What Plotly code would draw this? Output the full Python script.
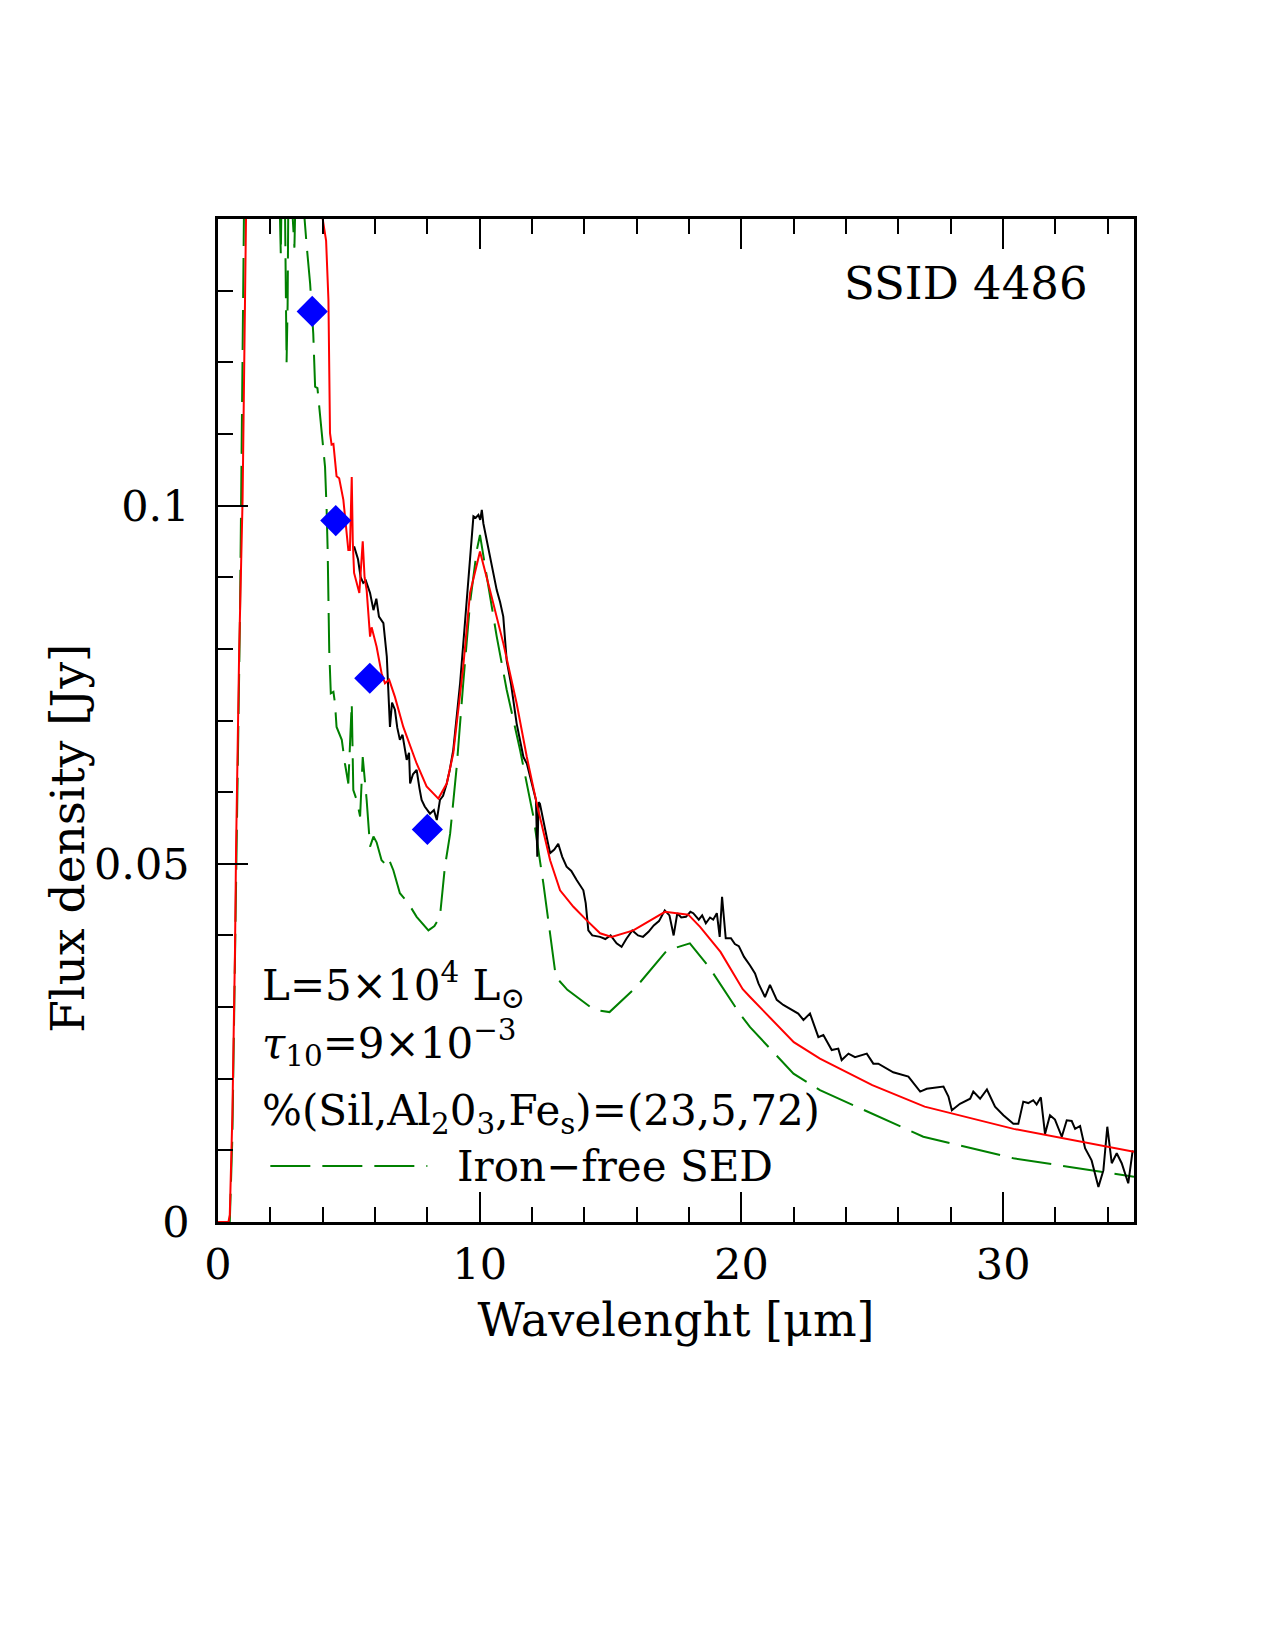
import plotly.graph_objects as go

# ---- observed spectrum (black) ----
obs_x = [5.20,5.35,5.45,5.55,5.65,5.81,5.94,6.05,6.15,6.32,6.45,6.52,6.57,6.65,6.76,6.85,6.95,7.05,7.21,7.30,7.34,7.45,7.59,7.70,7.78,7.90,8.10,8.25,8.36,8.48,8.60,8.74,8.85,8.99,9.10,9.25,9.40,9.57,9.68,9.76,9.85,9.95,10.02,10.08,10.14,10.25,10.39,10.50,10.65,10.78,10.90,11.03,11.20,11.41,11.55,11.67,11.80,11.92,12.05,12.15,12.20,12.25,12.30,12.49,12.60,12.69,12.85,13.00,13.15,13.32,13.50,13.71,13.85,13.96,14.05,14.15,14.30,14.60,14.80,15.00,15.23,15.42,15.60,15.83,16.05,16.24,16.45,16.65,16.85,17.07,17.25,17.41,17.55,17.70,17.88,18.05,18.16,18.37,18.50,18.64,18.80,18.92,19.06,19.17,19.26,19.40,19.60,19.75,19.90,20.10,
         20.33,20.52,20.65,20.90,21.09,21.35,21.60,22.17,22.37,22.62,22.94,23.13,23.45,23.70,23.83,24.09,24.34,24.79,25.04,25.23,25.80,26.19,26.38,26.83,27.08,27.72,27.91,28.04,28.35,28.74,28.86,29.12,29.38,29.69,30.01,30.39,30.58,30.77,30.96,31.15,31.28,31.44,31.60,31.79,31.98,32.24,32.43,32.62,32.75,32.94,33.13,33.38,33.64,33.83,33.98,34.15,34.34,34.53,34.78,34.95]
obs_y = [0.0943,0.0925,0.0900,0.0892,0.0895,0.0878,0.0854,0.0870,0.0845,0.0836,0.0789,0.0740,0.0691,0.0725,0.0715,0.0690,0.0673,0.0680,0.0645,0.0655,0.0612,0.0625,0.0631,0.0605,0.0589,0.0580,0.0570,0.0575,0.0561,0.0589,0.0595,0.0612,0.0630,0.0659,0.0700,0.0752,0.0820,0.0901,0.0950,0.0985,0.0983,0.0987,0.0980,0.0994,0.0975,0.0955,0.0929,0.0912,0.0882,0.0865,0.0845,0.0784,0.0750,0.0696,0.0670,0.0649,0.0640,0.0622,0.0600,0.0589,0.0510,0.0586,0.0584,0.0547,0.0530,0.0515,0.0520,0.0528,0.0510,0.0496,0.0490,0.0477,0.0470,0.0463,0.0445,0.0407,0.0400,0.0398,0.0395,0.0400,0.0389,0.0384,0.0395,0.0407,0.0400,0.0398,0.0405,0.0414,0.0420,0.0435,0.0428,0.0400,0.0431,0.0425,0.0426,0.0433,0.0431,0.0422,0.0428,0.0417,0.0425,0.0422,0.0431,0.0398,0.0454,0.0396,0.0396,0.0388,0.0385,0.0370,
         0.0358,0.0347,0.0333,0.0314,0.0331,0.0310,0.0303,0.0291,0.0282,0.0291,0.0258,0.0261,0.0240,0.0242,0.0226,0.0235,0.0230,0.0235,0.0221,0.0221,0.0209,0.0205,0.0203,0.0182,0.0186,0.0189,0.0175,0.0156,0.0165,0.0172,0.0182,0.0172,0.0185,0.0161,0.0149,0.0137,0.0137,0.0168,0.0166,0.0170,0.0164,0.0174,0.0123,0.0149,0.0143,0.0119,0.0142,0.0141,0.0130,0.0134,0.0103,0.0086,0.0049,0.0072,0.0133,0.0082,0.0096,0.0082,0.0054,0.0100]

# ---- best-fit model (red) ----
mod_x = [0.0,0.40,0.45,0.55,0.65,0.69,0.81,0.94,1.07,1.3,2.5,3.8,4.00,4.13,4.22,4.28,4.34,4.41,4.53,4.63,4.79,4.98,5.04,5.11,5.15,5.20,5.40,5.53,5.60,5.68,5.81,5.87,6.06,6.25,6.38,6.54,6.76,7.08,7.59,7.97,8.42,8.74,8.99,9.37,9.63,10.01,10.39,10.90,11.41,11.80,12.18,12.69,13.07,13.58,14.09,14.60,15.04,15.87,17.08,17.97,18.42,19.20,20.05,20.33,22.0,23.0,25.0,27.0,30.4,35.0]
mod_y = [0.0,0.0,0.001,0.015,0.038,0.052,0.080,0.101,0.14,0.17,0.25,0.17,0.14,0.137,0.1287,0.1101,0.1085,0.1086,0.1041,0.1038,0.1008,0.0938,0.0938,0.1040,0.0950,0.0906,0.0878,0.0950,0.0900,0.0882,0.0817,0.0830,0.0803,0.0766,0.0752,0.0757,0.0733,0.0691,0.0640,0.0608,0.0591,0.0612,0.0654,0.0775,0.0878,0.0936,0.0882,0.0808,0.0724,0.0649,0.0584,0.0505,0.0463,0.0440,0.0421,0.0403,0.0398,0.0407,0.0433,0.0429,0.0412,0.0377,0.0325,0.0314,0.0251,0.0228,0.0191,0.0161,0.0130,0.0098]

# ---- iron-free model (green dashed) ----
fe_x = [0.0,0.45,0.55,0.65,0.74,0.84,0.99,1.2,2.0,2.35,2.40,2.45,2.55,2.62,2.66,2.70,2.85,2.92,3.0,3.2,3.39,3.52,3.64,3.71,3.8,3.96,4.09,4.15,4.19,4.25,4.31,4.41,4.47,4.53,4.73,4.85,4.98,5.11,5.17,5.30,5.43,5.53,5.68,5.81,5.94,6.06,6.25,6.38,6.51,6.70,6.95,7.27,7.59,8.04,8.27,8.48,8.67,8.87,9.12,9.37,9.63,9.89,10.01,10.27,10.65,11.03,11.54,12.05,12.43,12.91,13.35,14.38,14.96,15.98,17.15,18.03,18.76,19.93,20.33,21.99,23.0,26.95,30.39,35.0]
fe_y = [0.0,0.0,0.012,0.038,0.0612,0.0845,0.14,0.19,0.20,0.145,0.135,0.150,0.145,0.120,0.128,0.150,0.140,0.136,0.150,0.145,0.1362,0.131,0.124,0.1166,0.1164,0.110,0.1054,0.0995,0.0938,0.0798,0.0738,0.0740,0.0724,0.0691,0.0673,0.0640,0.0612,0.0724,0.0603,0.0589,0.0566,0.0649,0.0589,0.0524,0.0538,0.0530,0.0505,0.0500,0.0508,0.0491,0.0459,0.0445,0.0426,0.0407,0.0413,0.0426,0.0496,0.0542,0.0635,0.0752,0.0864,0.0938,0.0959,0.0901,0.0817,0.0743,0.0659,0.0566,0.0473,0.0342,0.0324,0.0296,0.0293,0.0328,0.0379,0.0389,0.0356,0.0291,0.0272,0.0207,0.0184,0.0119,0.0089,0.0063]

# ---- photometry (blue diamonds) ----
phot_x = [3.6, 4.5, 5.8, 8.0]
phot_y = [0.1271, 0.0979, 0.0759, 0.0548]

x_tickvals = [0, 10, 20, 30]
x_ticktext = ["0", "10", "20", "30"]
y_tickvals = [0, 0.05, 0.1]
y_ticktext = ["0", "0.05", "0.1"]

FONT = "DejaVu Serif"
DASH = "40px,12px"

fig = go.Figure()
fig.add_trace(go.Scatter(x=fe_x, y=fe_y, mode="lines",
                         line=dict(color="#008000", width=2, dash=DASH), showlegend=False))
fig.add_trace(go.Scatter(x=obs_x, y=obs_y, mode="lines",
                         line=dict(color="black", width=2), showlegend=False))
fig.add_trace(go.Scatter(x=mod_x, y=mod_y, mode="lines",
                         line=dict(color="#ff0000", width=2), showlegend=False))
fig.add_trace(go.Scatter(x=phot_x, y=phot_y, mode="markers",
                         marker=dict(symbol="diamond", size=24, color="#0000ff"), showlegend=False))

# legend sample line for iron-free SED
fig.add_trace(go.Scatter(x=[2.0, 8.0], y=[0.0078, 0.0078], mode="lines",
                         line=dict(color="#008000", width=2, dash=DASH), showlegend=False))

ann_font = dict(family=FONT, size=42, color="black")
fig.add_annotation(x=33.3, y=0.131, xref="x", yref="y", text="SSID 4486",
                   showarrow=False, xanchor="right", yanchor="middle",
                   font=dict(family=FONT, size=45, color="black"))
fig.add_annotation(x=1.6, y=0.0331, xref="x", yref="y",
                   text="L=5×10<sup>4</sup> L<sub>⊙</sub>",
                   showarrow=False, xanchor="left", yanchor="middle", font=ann_font)
fig.add_annotation(x=1.6, y=0.0250, xref="x", yref="y",
                   text="<i>τ</i><sub>10</sub>=9×10<sup>−3</sup>",
                   showarrow=False, xanchor="left", yanchor="middle", font=ann_font)
fig.add_annotation(x=1.6, y=0.0151, xref="x", yref="y",
                   text="%(Sil,Al<sub>2</sub>0<sub>3</sub>,Fe<sub>s</sub>)=(23,5,72)",
                   showarrow=False, xanchor="left", yanchor="middle", font=ann_font)
fig.add_annotation(x=9.06, y=0.0078, xref="x", yref="y", text="Iron−free SED",
                   showarrow=False, xanchor="left", yanchor="middle", font=ann_font)

# y-axis title (placed like the reference, below the axis centre)
fig.add_annotation(x=-0.1638, y=0.383, xref="paper", yref="paper", text="Flux density [Jy]",
                   textangle=-90, showarrow=False, xanchor="center", yanchor="middle",
                   font=dict(family=FONT, size=47, color="black"))

axis_common = dict(
    showgrid=False, zeroline=False, showline=True, linecolor="black", linewidth=2.5,
    ticks="inside", tickcolor="black", tickwidth=2, ticklen=30,
    tickfont=dict(family=FONT, size=43, color="black"),
)

fig.update_xaxes(**axis_common, range=[0, 35], tickvals=x_tickvals, ticktext=x_ticktext,
                 mirror="ticks",
                 minor=dict(dtick=2, tick0=0, ticks="inside", ticklen=15, tickwidth=2, tickcolor="black"),
                 title=dict(text="Wavelenght [μm]", font=dict(family=FONT, size=46, color="black"), standoff=16),
                 ticklabelstandoff=3)
fig.update_yaxes(**axis_common, range=[0, 0.14], tickvals=y_tickvals, ticktext=y_ticktext,
                 mirror=True,
                 minor=dict(dtick=0.01, tick0=0, ticks="inside", ticklen=15, tickwidth=2, tickcolor="black"),
                 ticklabelstandoff=17)

fig.update_layout(width=1275, height=1650,
                  margin=dict(l=218, r=141, t=219, b=428, autoexpand=False),
                  paper_bgcolor="white", plot_bgcolor="white")

fig.write_html("out.html")
